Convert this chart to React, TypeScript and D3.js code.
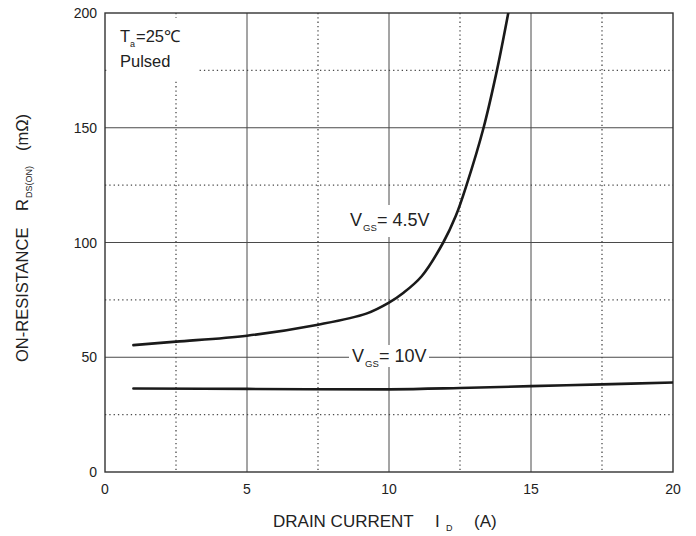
import React from "react";
import * as d3 from "d3";

// Drain current (A) vs on-resistance (mΩ), Ta = 25℃, pulsed
const id45: number[] = [1, 2.5, 5, 7.5, 9.2, 10, 10.5, 11.15, 11.91, 12.35, 12.73, 13.33, 13.8, 14.2];
const r45: number[] = [55.3, 56.8, 59.4, 64.2, 69.0, 73.8, 78.0, 85.3, 100, 111.5, 125, 150, 175, 200];

const id10: number[] = [1, 5, 10, 12.5, 15, 17.5, 20];
const r10: number[] = [36.4, 36.2, 36.0, 36.6, 37.4, 38.2, 39.0];

const xTicks: number[] = [0, 5, 10, 15, 20];
const yTicks: number[] = [0, 50, 100, 150, 200];
const xMinor: number[] = [2.5, 7.5, 12.5, 17.5];
const yMinor: number[] = [25, 75, 125, 175];

const W = 696;
const H = 536;
const left = 105;
const right = 673;
const top = 13;
const bottom = 472;

const FONT = "'Liberation Sans', Arial, Helvetica, sans-serif";
const INK = "#222";
const GRID = "#4a4a4a";

export default function App() {
  const x = d3.scaleLinear().domain([0, 20]).range([left, right]);
  const y = d3.scaleLinear().domain([0, 200]).range([bottom, top]);

  const line = d3
    .line<[number, number]>()
    .x((d) => x(d[0]))
    .y((d) => y(d[1]))
    .curve(d3.curveCatmullRom.alpha(0.5));

  const path45 = line(id45.map((v, i) => [v, r45[i]] as [number, number])) || "";
  const path10 = line(id10.map((v, i) => [v, r10[i]] as [number, number])) || "";

  return (
    <svg
      width={W}
      height={H}
      viewBox={`0 0 ${W} ${H}`}
      style={{ position: "absolute", left: 0, top: 0, background: "#fff" }}
      fontFamily={FONT}
    >
      <defs>
        <clipPath id="plotClip">
          <rect x={left} y={top} width={right - left} height={bottom - top} />
        </clipPath>
      </defs>

      {/* dotted minor grid */}
      {xMinor.map((v) => (
        <line
          key={`xm${v}`}
          x1={x(v)}
          x2={x(v)}
          y1={top}
          y2={bottom}
          stroke={GRID}
          strokeWidth={1.3}
          strokeDasharray="1.3,3"
        />
      ))}
      {yMinor.map((v) => (
        <line
          key={`ym${v}`}
          x1={left}
          x2={right}
          y1={y(v)}
          y2={y(v)}
          stroke={GRID}
          strokeWidth={1.3}
          strokeDasharray="1.3,3"
        />
      ))}

      {/* solid major grid */}
      {xTicks.slice(1, -1).map((v) => (
        <line key={`xg${v}`} x1={x(v)} x2={x(v)} y1={top} y2={bottom} stroke={GRID} strokeWidth={1} />
      ))}
      {yTicks.slice(1, -1).map((v) => (
        <line key={`yg${v}`} x1={left} x2={right} y1={y(v)} y2={y(v)} stroke={GRID} strokeWidth={1} />
      ))}

      {/* label backgrounds */}
      <rect x={109} y={18} width={88} height={61} fill="#fff" />
      <rect x={346} y={205} width={88} height={32} fill="#fff" />
      <rect x={349} y={345} width={80} height={22} fill="#fff" />

      {/* plot frame */}
      <rect
        x={left}
        y={top}
        width={right - left}
        height={bottom - top}
        fill="none"
        stroke="#333"
        strokeWidth={1.4}
      />

      {/* tick labels */}
      {yTicks.map((v) => (
        <text key={`yl${v}`} x={97} y={y(v) + 5} textAnchor="end" fontSize={14} fill={INK}>
          {v}
        </text>
      ))}
      {xTicks.map((v) => (
        <text key={`xl${v}`} x={x(v)} y={494} textAnchor="middle" fontSize={14} fill={INK}>
          {v}
        </text>
      ))}

      {/* axis titles */}
      <text x={273} y={527} fontSize={17} fill={INK}>
        DRAIN CURRENT
      </text>
      <text x={435} y={527} fontSize={17} fill={INK}>
        I
      </text>
      <text x={446} y={531} fontSize={9} fill={INK}>
        D
      </text>
      <text x={474} y={527} fontSize={17} fill={INK}>
        (A)
      </text>

      <g transform="translate(28,0) rotate(-90)">
        <text x={-362} y={0} fontSize={16.5} fill={INK}>
          ON-RESISTANCE
        </text>
        <text x={-211} y={0} fontSize={16.5} fill={INK}>
          R
        </text>
        <text x={-198} y={4} fontSize={9} fill={INK}>
          DS(ON)
        </text>
        <text x={-151} y={0} fontSize={16.5} fill={INK}>
          (mΩ)
        </text>
      </g>

      {/* condition note */}
      <text x={120} y={42} fontSize={16.5} fill={INK}>
        T
      </text>
      <text x={130} y={47} fontSize={9} fill={INK}>
        a
      </text>
      <text x={136} y={42} fontSize={16.5} fill={INK}>
        =25℃
      </text>
      <text x={120} y={67} fontSize={16.5} fill={INK}>
        Pulsed
      </text>

      {/* curve labels */}
      <text x={350} y={226} fontSize={18} fill={INK}>
        V
      </text>
      <text x={363} y={231} fontSize={9.5} fill={INK}>
        GS
      </text>
      <text x={377} y={226} fontSize={18} fill={INK}>
        = 4.5V
      </text>

      <text x={352} y={362} fontSize={18} fill={INK}>
        V
      </text>
      <text x={365} y={367} fontSize={9.5} fill={INK}>
        GS
      </text>
      <text x={379} y={362} fontSize={18} fill={INK}>
        = 10V
      </text>

      {/* curves */}
      <g clipPath="url(#plotClip)">
        <path d={path45} fill="none" stroke="#1a1a1a" strokeWidth={2.6} strokeLinecap="round" />
        <path d={path10} fill="none" stroke="#1a1a1a" strokeWidth={2.6} strokeLinecap="round" />
      </g>
    </svg>
  );
}
